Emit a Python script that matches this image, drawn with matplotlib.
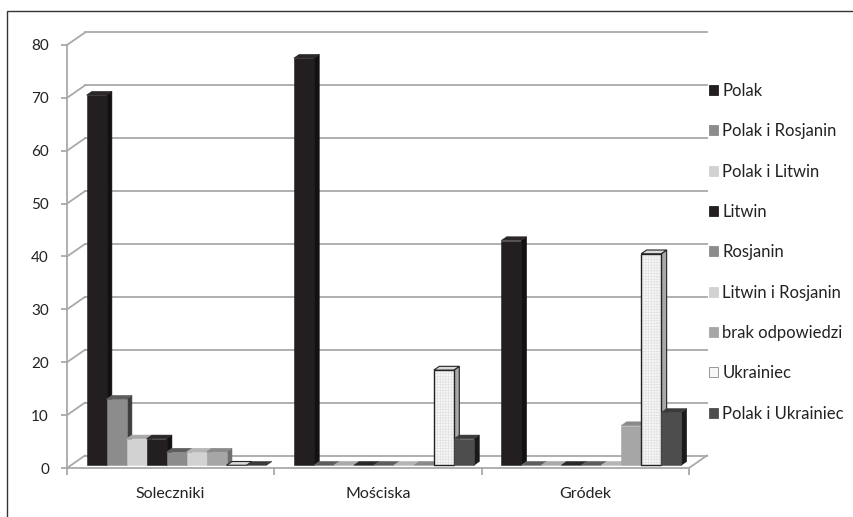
import matplotlib.pyplot as plt
from matplotlib.patches import Polygon, Patch, Rectangle

plt.rcParams['font.family'] = ['Lato', 'DejaVu Sans']
plt.rcParams['hatch.linewidth'] = 0.5

# dane
miejscowosci = ["Soleczniki", "Mościska", "Gródek"]
serie = ["Polak", "Polak i Rosjanin", "Polak i Litwin", "Litwin", "Rosjanin",
         "Litwin i Rosjanin", "brak odpowiedzi", "Ukrainiec", "Polak i Ukrainiec"]

polak = [70, 77, 42.5]
polak_rosjanin = [12.5, 0, 0]
polak_litwin = [5, 0, 0]
litwin = [5, 0, 0]
rosjanin = [2.5, 0, 0]
litwin_rosjanin = [2.5, 0, 0]
brak_odp = [2.5, 0, 7.5]
ukrainiec = [0, 18, 40]
polak_ukrainiec = [0, 5, 10]

wartosci = [polak, polak_rosjanin, polak_litwin, litwin, rosjanin,
            litwin_rosjanin, brak_odp, ukrainiec, polak_ukrainiec]

# kolory: przod, gora, bok
przod = ['#231f20', '#8c8c8c', '#d2d2d2', '#231f20', '#8c8c8c',
         '#d2d2d2', '#a6a6a6', '#f7f7f7', '#4d4d4d']
gora = ['#2b2728', '#5e5e5e', '#a9a9a9', '#2b2728', '#5e5e5e',
        '#b5b5b5', '#8a8a8a', '#d9d9d9', '#3a3a3a']
bok = ['#131112', '#3e3e3e', '#9a9a9a', '#131112', '#3e3e3e',
       '#a0a0a0', '#6e6e6e', '#a8a8a8', '#1a1a1a']

fig = plt.figure(figsize=(8.54, 5.17), dpi=100)
W, H = 854, 517
ax = fig.add_axes([67 / W, 1 - 468 / H, (689 - 67) / W, (468 - 45) / H])
ax.set_xlim(0, 3)
ax.set_ylim(0, 80)

# glebokosc "3D" w jednostkach danych
DX = 18 / ((689 - 67) / 3)
DY = 12.5 / ((468 - 45) / 80)
F0 = 0.22   # przednia sciana slupka
BD = 0.30   # grubosc slupka
w = 0.0965
start = 0.075
grid_c = '#a9a9a9'

# tylna sciana i podloga
for v in range(0, 81, 10):
    ax.plot([DX, 3 + DX], [v + DY, v + DY], color=grid_c, lw=1.3, clip_on=False, zorder=1)
    ax.plot([0, DX], [v, v + DY], color=grid_c, lw=1.3, clip_on=False, zorder=1)
ax.plot([3, 3 + DX], [0, DY], color=grid_c, lw=1.3, clip_on=False, zorder=1)


def slupek(x0, h, k, z):
    ox, oy = F0 * DX, F0 * DY
    bx, by = BD * DX, BD * DY
    xa, xb = x0 + ox, x0 + ox + w
    front = [(xa, oy), (xb, oy), (xb, oy + h), (xa, oy + h)]
    side = [(xb, oy), (xb + bx, oy + by), (xb + bx, oy + h + by), (xb, oy + h)]
    top = [(xa, oy + h), (xb, oy + h), (xb + bx, oy + h + by), (xa + bx, oy + h + by)]
    ukr = serie[k] == "Ukrainiec"
    ec = '#222222' if ukr else None
    if h > 0:
        ax.add_patch(Polygon(side, closed=True, fc=bok[k], ec=ec or bok[k], lw=0.8 if ukr else 0.4,
                             zorder=z, clip_on=False))
        ax.add_patch(Polygon(front, closed=True, fc=przod[k], ec=przod[k], lw=0.4,
                             zorder=z + 0.001, clip_on=False))
        if ukr:
            ax.add_patch(Polygon(front, closed=True, fc='none', ec='#e2e2e2', lw=0,
                                 hatch='++++++', zorder=z + 0.002, clip_on=False))
            ax.add_patch(Polygon(front, closed=True, fc='none', ec='#222222', lw=1.0,
                                 zorder=z + 0.003, clip_on=False))
    ax.add_patch(Polygon(top, closed=True, fc=gora[k], ec=ec or gora[k], lw=0.8 if ukr else 0.4,
                         zorder=z + 0.004, clip_on=False))


z = 3
for i in range(len(miejscowosci)):
    for k in range(len(serie)):
        slupek(i + start + k * w, wartosci[k][i], k, z)
        z += 0.01

# osie
for s in ['top', 'right']:
    ax.spines[s].set_visible(False)
for s in ['left', 'bottom']:
    ax.spines[s].set_color(grid_c)
    ax.spines[s].set_linewidth(1.3)
    ax.spines[s].set_zorder(2)
ax.set_yticks(range(0, 81, 10))
ax.tick_params(axis='y', length=4, width=1.3, color=grid_c, pad=9, labelsize=11,
               labelcolor='#222222')
ax.set_xticks([0, 1, 2, 3])
ax.set_xticklabels([])
ax.set_xticks([0.5, 1.5, 2.5], minor=True)
ax.set_xticklabels(miejscowosci, minor=True)
ax.tick_params(axis='x', which='major', length=5, width=1.3, color=grid_c)
ax.tick_params(axis='x', which='minor', length=0, pad=14, labelsize=11.5, labelcolor='#222222')
ax.patch.set_alpha(0)

# legenda
uchwyty = []
for k, nazwa in enumerate(serie):
    ec = '#888888' if nazwa == "Ukrainiec" else przod[k]
    uchwyty.append(Patch(fc=przod[k], ec=ec, lw=0.6, label=nazwa))
fig.legend(handles=uchwyty, loc='upper left', bbox_to_anchor=(709 / W, 1 - 83 / H),
           frameon=False, fontsize=12, labelspacing=1.46, handlelength=0.55,
           handleheight=0.55, handletextpad=0.25, borderpad=0, borderaxespad=0,
           labelcolor='#222222')

# ramka wykresu
fig.patches.append(Rectangle((7 / W, -0.1), 1.2, 1.1 - 11 / H, transform=fig.transFigure,
                             fill=False, ec='#333333', lw=1.0))

fig.savefig('out.png', dpi=100)
